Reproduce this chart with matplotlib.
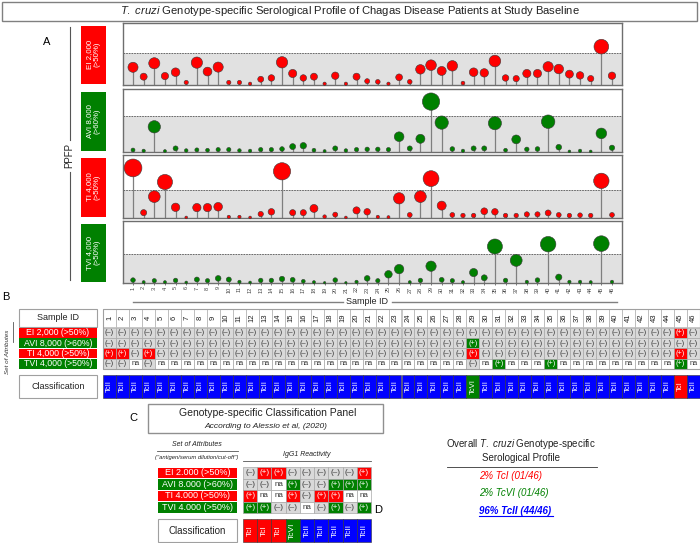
import matplotlib
matplotlib.use('Agg')
import matplotlib.pyplot as plt
from matplotlib.patches import Rectangle

plt.rcParams['font.family'] = ['Liberation Sans', 'DejaVu Sans']
plt.rcParams['mathtext.fontset'] = 'custom'
plt.rcParams['mathtext.rm'] = 'Liberation Sans'
plt.rcParams['mathtext.it'] = 'Liberation Sans:italic'
plt.rcParams['mathtext.bf'] = 'Liberation Sans:bold:italic'

# ---------------- data ----------------
sample_ids = list(range(1, 47))
ei_vals = [27.7, 13, 34, 14, 20, 4, 35, 21, 28, 4, 4, 2, 9, 11, 35.5, 18, 11, 13, 2, 14.5, 2, 13, 6,
           5, 2, 12, 5, 24.5, 31, 22, 30, 3, 20, 19, 37.5, 11, 10, 18, 18, 28.6, 25, 17, 15, 10, 60, 14.5]
avi_vals = [3.3, 2, 42, 1.5, 6, 2.5, 3.5, 3, 4, 4, 2.5, 2, 4, 4, 5, 9, 10.5, 3, 1.5, 6, 2.5, 4, 4.5,
            4.5, 4, 25.5, 6, 22, 84, 49, 5, 2, 6, 6, 48, 3, 21, 4.5, 5, 50.5, 8, 1, 2, 1, 31, 7]
ti_vals = [89, 9.5, 38, 64, 19, 1, 18.5, 18.5, 20, 2, 2, 1, 7, 11, 83, 9.5, 9.5, 17, 2.5, 6, 1, 13.5, 11,
           2, 1.5, 35, 5.5, 38, 70, 22, 5.5, 4.5, 4.5, 12, 11, 4.5, 4.5, 6.5, 6.5, 9, 5.5, 4.5, 5, 4.5, 66, 5.5]
tvi_vals = [5, 1.5, 4, 1.5, 4.5, 1, 6, 4, 8, 6, 2, 1, 4.5, 4.5, 7, 5.5, 3, 1.5, 0.5, 5, 0.5, 2, 8,
            4, 15, 24, 1.5, 4.5, 29, 5.5, 4, 1.5, 18, 9, 63, 4.5, 39, 2, 5, 67, 10, 2, 2, 1.5, 68, 2]
panel_labels = ['EI 2,000\n(>50%)', 'AVI 8,000\n(>60%)', 'TI 4,000\n(>50%)', 'TVI 4,000\n(>50%)']
thresholds = [50, 60, 50, 50]

b_row_labels = ['EI 2,000 (>50%)', 'AVI 8,000 (>60%)', 'TI 4,000 (>50%)', 'TVI 4,000 (>50%)']
b_ei = ("- - - - - - - - - - - - - - - - - - - - - - - - - - - - - - - - - - - - - - - - - - - - + -").split()
b_avi = ("- - - - - - - - - - - - - - - - - - - - - - - - - - - - + - - - - - - - - - - - - - - - - -").split()
b_ti = ("+ + - + - - - - - - - - - - - - - - - - - - - - - - - - + - - - - - - - - - - - - - - - + -").split()
b_tvi = ("- - na - na na na na na na na na na na na na na na na na na na na na na na na na - na + na na na + "
         "na na na na na na na na na + na").split()
b_class = ("TcII TcII TcII TcII TcII TcII TcII TcII TcII TcII TcII TcII TcII TcII TcII TcII TcII TcII TcII TcII "
           "TcII TcII TcII TcII TcII TcII TcII TcII TcVI TcII TcII TcII TcII TcII TcII TcII TcII TcII TcII TcII "
           "TcII TcII TcII TcII TcI TcII").split()

c_row_labels = ['EI 2.000 (>50%)', 'AVI 8.000 (>60%)', 'TI 4.000 (>50%)', 'TVI 4.000 (>50%)']
c_ei = ['-', '+', '+', '-', '-', '-', '-', '-', '+']
c_avi = ['-', '-', 'na', '+', '-', '-', '+', '+', '+']
c_ti = ['+', 'na', 'na', '+', '-', '+', '+', 'na', 'na']
c_tvi = ['+', '+', '-', '-', 'na', '-', '+', '-', '+']
c_class = ['TcI', 'TcI', 'TcI', 'TcVI', 'TcII', 'TcII', 'TcII', 'TcII', 'TcII']

d_lines = ['2% TcI (01/46)', '2% TcVI (01/46)', '96% TcII (44/46)']

# ---------------- style ----------------
RED = '#ff0000'
GREEN = '#008000'
BLUE = '#0000ff'
GRAYCELL = '#d9d9d9'
row_colors = [RED, GREEN, RED, GREEN]
class_colors = {'TcI': RED, 'TcII': BLUE, 'TcVI': GREEN}
sym = {'-': '(–)', '+': '(+)', 'na': 'na'}

W, H = 700, 543
fig = plt.figure(figsize=(W / 100, H / 100), dpi=100)


def px_axes(x0, y0, x1, y1):
    return fig.add_axes([x0 / W, 1 - y1 / H, (x1 - x0) / W, (y1 - y0) / H])


ov = fig.add_axes([0, 0, 1, 1], zorder=-1)
ov.set_xlim(0, W)
ov.set_ylim(H, 0)
ov.axis('off')

# title
ov.add_patch(Rectangle((2, 1.5), 695, 19.5, fill=False, ec='#808080', lw=1))
ov.text(350, 11.5, r'$\it{T.\ cruzi}$ Genotype-specific Serological Profile of Chagas Disease Patients at Study Baseline',
        ha='center', va='center', fontsize=8.1, color='#222')

# ---------------- panel A ----------------
ov.text(47, 42, 'A', ha='center', va='center', fontsize=8)
tops = [23, 89, 155, 221]
bots = [85, 152, 218, 283]
ytops = [97, 105, 112, 107]
all_vals = [ei_vals, avi_vals, ti_vals, tvi_vals]
for k in range(4):
    ax = px_axes(123, tops[k], 622, bots[k])
    vals = all_vals[k]
    ax.set_xlim(0.06, 46.94)
    ax.set_ylim(0, ytops[k])
    ax.axhspan(0, thresholds[k], color='#e1e1e1', zorder=0, lw=0)
    ax.axhline(thresholds[k], color='#555555', ls=(0, (2, 1.2)), lw=0.6, zorder=1)
    ax.vlines(sample_ids, 0, vals, color='#7f7f7f', lw=0.9, zorder=2)
    ax.scatter(sample_ids, vals, s=[1.83 * v + 2 for v in vals], c=row_colors[k],
               edgecolors='#3a3a3a', linewidths=0.4, zorder=3, clip_on=False)
    for sp in ax.spines.values():
        sp.set_color('#6e6e6e')
        sp.set_linewidth(1)
    ax.set_yticks([])
    if k == 3:
        ax.set_xticks(sample_ids)
        ax.set_xticklabels([str(s) for s in sample_ids], rotation=90, fontsize=4, color='#444')
        ax.tick_params(axis='x', length=1.5, width=0.5, pad=1, colors='#444')
    else:
        ax.set_xticks([])
    # label box
    ov.add_patch(Rectangle((81, tops[k] + 3), 25, bots[k] - tops[k] - 4, color=row_colors[k], lw=0))
    ov.text(93.5, (tops[k] + bots[k]) / 2 + 0.5, panel_labels[k], rotation=90, ha='center', va='center',
            fontsize=5.7, color='white', linespacing=1.1)

ov.plot([70, 70], [27, 140], color='#555', lw=0.8)
ov.plot([70, 70], [172, 280], color='#555', lw=0.8)
ov.text(69, 156, 'PPFP', rotation=90, ha='center', va='center', fontsize=7, color='#222')
ov.plot([133, 343], [302, 302], color='#808080', lw=1)
ov.plot([392, 617], [302, 302], color='#808080', lw=1)
ov.text(367, 302, 'Sample ID', ha='center', va='center', fontsize=6.5, color='#222')

# ---------------- panel B ----------------
ov.text(6, 297, 'B', ha='center', va='center', fontsize=8)
bx0, bcw = 103, 597 / 46
b_hdr_top, b_hdr_bot = 309, 327
b_row_top, b_row_h = 327.5, 10.4
b_rows = [b_ei, b_avi, b_ti, b_tvi]
# left labels
ov.add_patch(Rectangle((18.5, b_hdr_top), 78.5, b_hdr_bot - b_hdr_top, fc='white', ec='#a0a0a0', lw=0.8))
ov.text(57.75, (b_hdr_top + b_hdr_bot) / 2, 'Sample ID', ha='center', va='center', fontsize=6.5, color='#222')
for r in range(4):
    y = b_row_top + r * b_row_h
    ov.add_patch(Rectangle((19, y + 0.4), 78, b_row_h - 0.8, color=row_colors[r], lw=0))
    ov.text(58, y + b_row_h / 2, b_row_labels[r], ha='center', va='center', fontsize=6.3, color='white')
ov.add_patch(Rectangle((18.5, 375), 78.5, 23, fc='white', ec='#a0a0a0', lw=0.8))
ov.text(57.75, 386.5, 'Classification', ha='center', va='center', fontsize=6.5, color='#222')
ov.text(8, 352, 'Set of Attributes', rotation=90, ha='center', va='center', fontsize=4.5, style='italic', color='#333')
ov.plot([12.5, 12.5], [322, 342], color='#555', lw=0.6)

# header
for i, sid in enumerate(sample_ids):
    x = bx0 + i * bcw
    ov.add_patch(Rectangle((x, b_hdr_top), bcw, b_hdr_bot - b_hdr_top, fc='white', ec='#b0b0b0', lw=0.5))
    ov.text(x + bcw / 2, (b_hdr_top + b_hdr_bot) / 2, str(sid), rotation=90, ha='center', va='center',
            fontsize=5.5, color='#222')
for r, row in enumerate(b_rows):
    y = b_row_top + r * b_row_h
    for i, st in enumerate(row):
        x = bx0 + i * bcw
        fc = row_colors[r] if st == '+' else (GRAYCELL if st == '-' else 'white')
        ov.add_patch(Rectangle((x, y), bcw, b_row_h, fc=fc, ec='#a8a8a8', lw=0.5))
        ov.text(x + bcw / 2, y + b_row_h / 2, sym[st], ha='center', va='center', fontsize=5.3,
                color='white' if st == '+' else '#333')
ov.add_patch(Rectangle((bx0, b_hdr_top), 597, b_row_top + 4 * b_row_h - b_hdr_top, fill=False, ec='#a0a0a0', lw=0.8))
for i, cl in enumerate(b_class):
    x = bx0 + i * bcw
    ov.add_patch(Rectangle((x, 375), bcw, 23, fc=class_colors[cl], ec='#333', lw=0.4))
    ov.text(x + bcw / 2, 386.5, cl, rotation=90, ha='center', va='center', fontsize=5.5, color='white')

# ---------------- panel C ----------------
ov.text(133, 418, 'C', ha='center', va='center', fontsize=8)
ov.add_patch(Rectangle((148, 404), 235, 29, fc='white', ec='#909090', lw=1))
ov.text(268, 413, 'Genotype-specific Classification Panel', ha='center', va='center', fontsize=7.5, color='#222')
ov.text(266, 426, 'According to Alessio et al, (2020)', ha='center', va='center', fontsize=6,
        style='italic', color='#222')
ov.text(197, 445, 'Set of Attributes', ha='center', va='center', fontsize=5, style='italic', color='#222')
ov.plot([157, 238], [451, 451], color='#555', lw=0.6)
ov.text(197, 457, '("antigen/serum dilution/cut-off")', ha='center', va='center', fontsize=4.2,
        style='italic', color='#222')
cx0, ccw = 243, 128 / 9
ov.text(cx0 + 9 * ccw / 2, 455, 'IgG1 Reactivity', ha='center', va='center', fontsize=5, style='italic', color='#222')
ov.plot([cx0, cx0 + 9 * ccw], [461, 461], color='#555', lw=0.6)
c_rows = [c_ei, c_avi, c_ti, c_tvi]
c_row_top, c_row_h = 467, 11.5
for r, row in enumerate(c_rows):
    y = c_row_top + r * c_row_h
    ov.add_patch(Rectangle((158, y + 0.5), 79, c_row_h - 1, color=row_colors[r], lw=0))
    ov.text(197.5, y + c_row_h / 2, c_row_labels[r], ha='center', va='center', fontsize=6.5, color='white')
    for i, st in enumerate(row):
        x = cx0 + i * ccw
        fc = row_colors[r] if st == '+' else (GRAYCELL if st == '-' else 'white')
        ov.add_patch(Rectangle((x, y), ccw, c_row_h, fc=fc, ec='#a8a8a8', lw=0.5))
        ov.text(x + ccw / 2, y + c_row_h / 2, sym[st], ha='center', va='center', fontsize=5.8,
                color='white' if st == '+' else '#333')
ov.add_patch(Rectangle((158, 519), 78.5, 23, fc='white', ec='#a0a0a0', lw=0.8))
ov.text(197, 530.5, 'Classification', ha='center', va='center', fontsize=7, color='#222')
for i, cl in enumerate(c_class):
    x = cx0 + i * ccw
    ov.add_patch(Rectangle((x, 519), ccw, 23, fc=class_colors[cl], ec='#333', lw=0.4))
    ov.text(x + ccw / 2, 530.5, cl, rotation=90, ha='center', va='center', fontsize=6, color='white')

# ---------------- panel D ----------------
ov.text(378, 510, 'D', ha='center', va='center', fontsize=8)
ov.text(521, 444, r'Overall $\it{T.\ cruzi}$ Genotype-specific', ha='center', va='center', fontsize=7, color='#222')
ov.text(521, 458, 'Serological Profile', ha='center', va='center', fontsize=7, color='#222')
ov.plot([447, 597], [467, 467], color='#333', lw=0.6)
d_colors = [RED, GREEN, BLUE]
d_y = [476, 493, 511]
for t, c, y in zip(d_lines, d_colors, d_y):
    ov.text(479, y, t, ha='left', va='center', fontsize=7, style='italic', color=c,
            fontweight='bold' if c == BLUE else 'normal')
ov.plot([479, 553], [516, 516], color=BLUE, lw=0.8)

fig.savefig('out.png', dpi=100)
